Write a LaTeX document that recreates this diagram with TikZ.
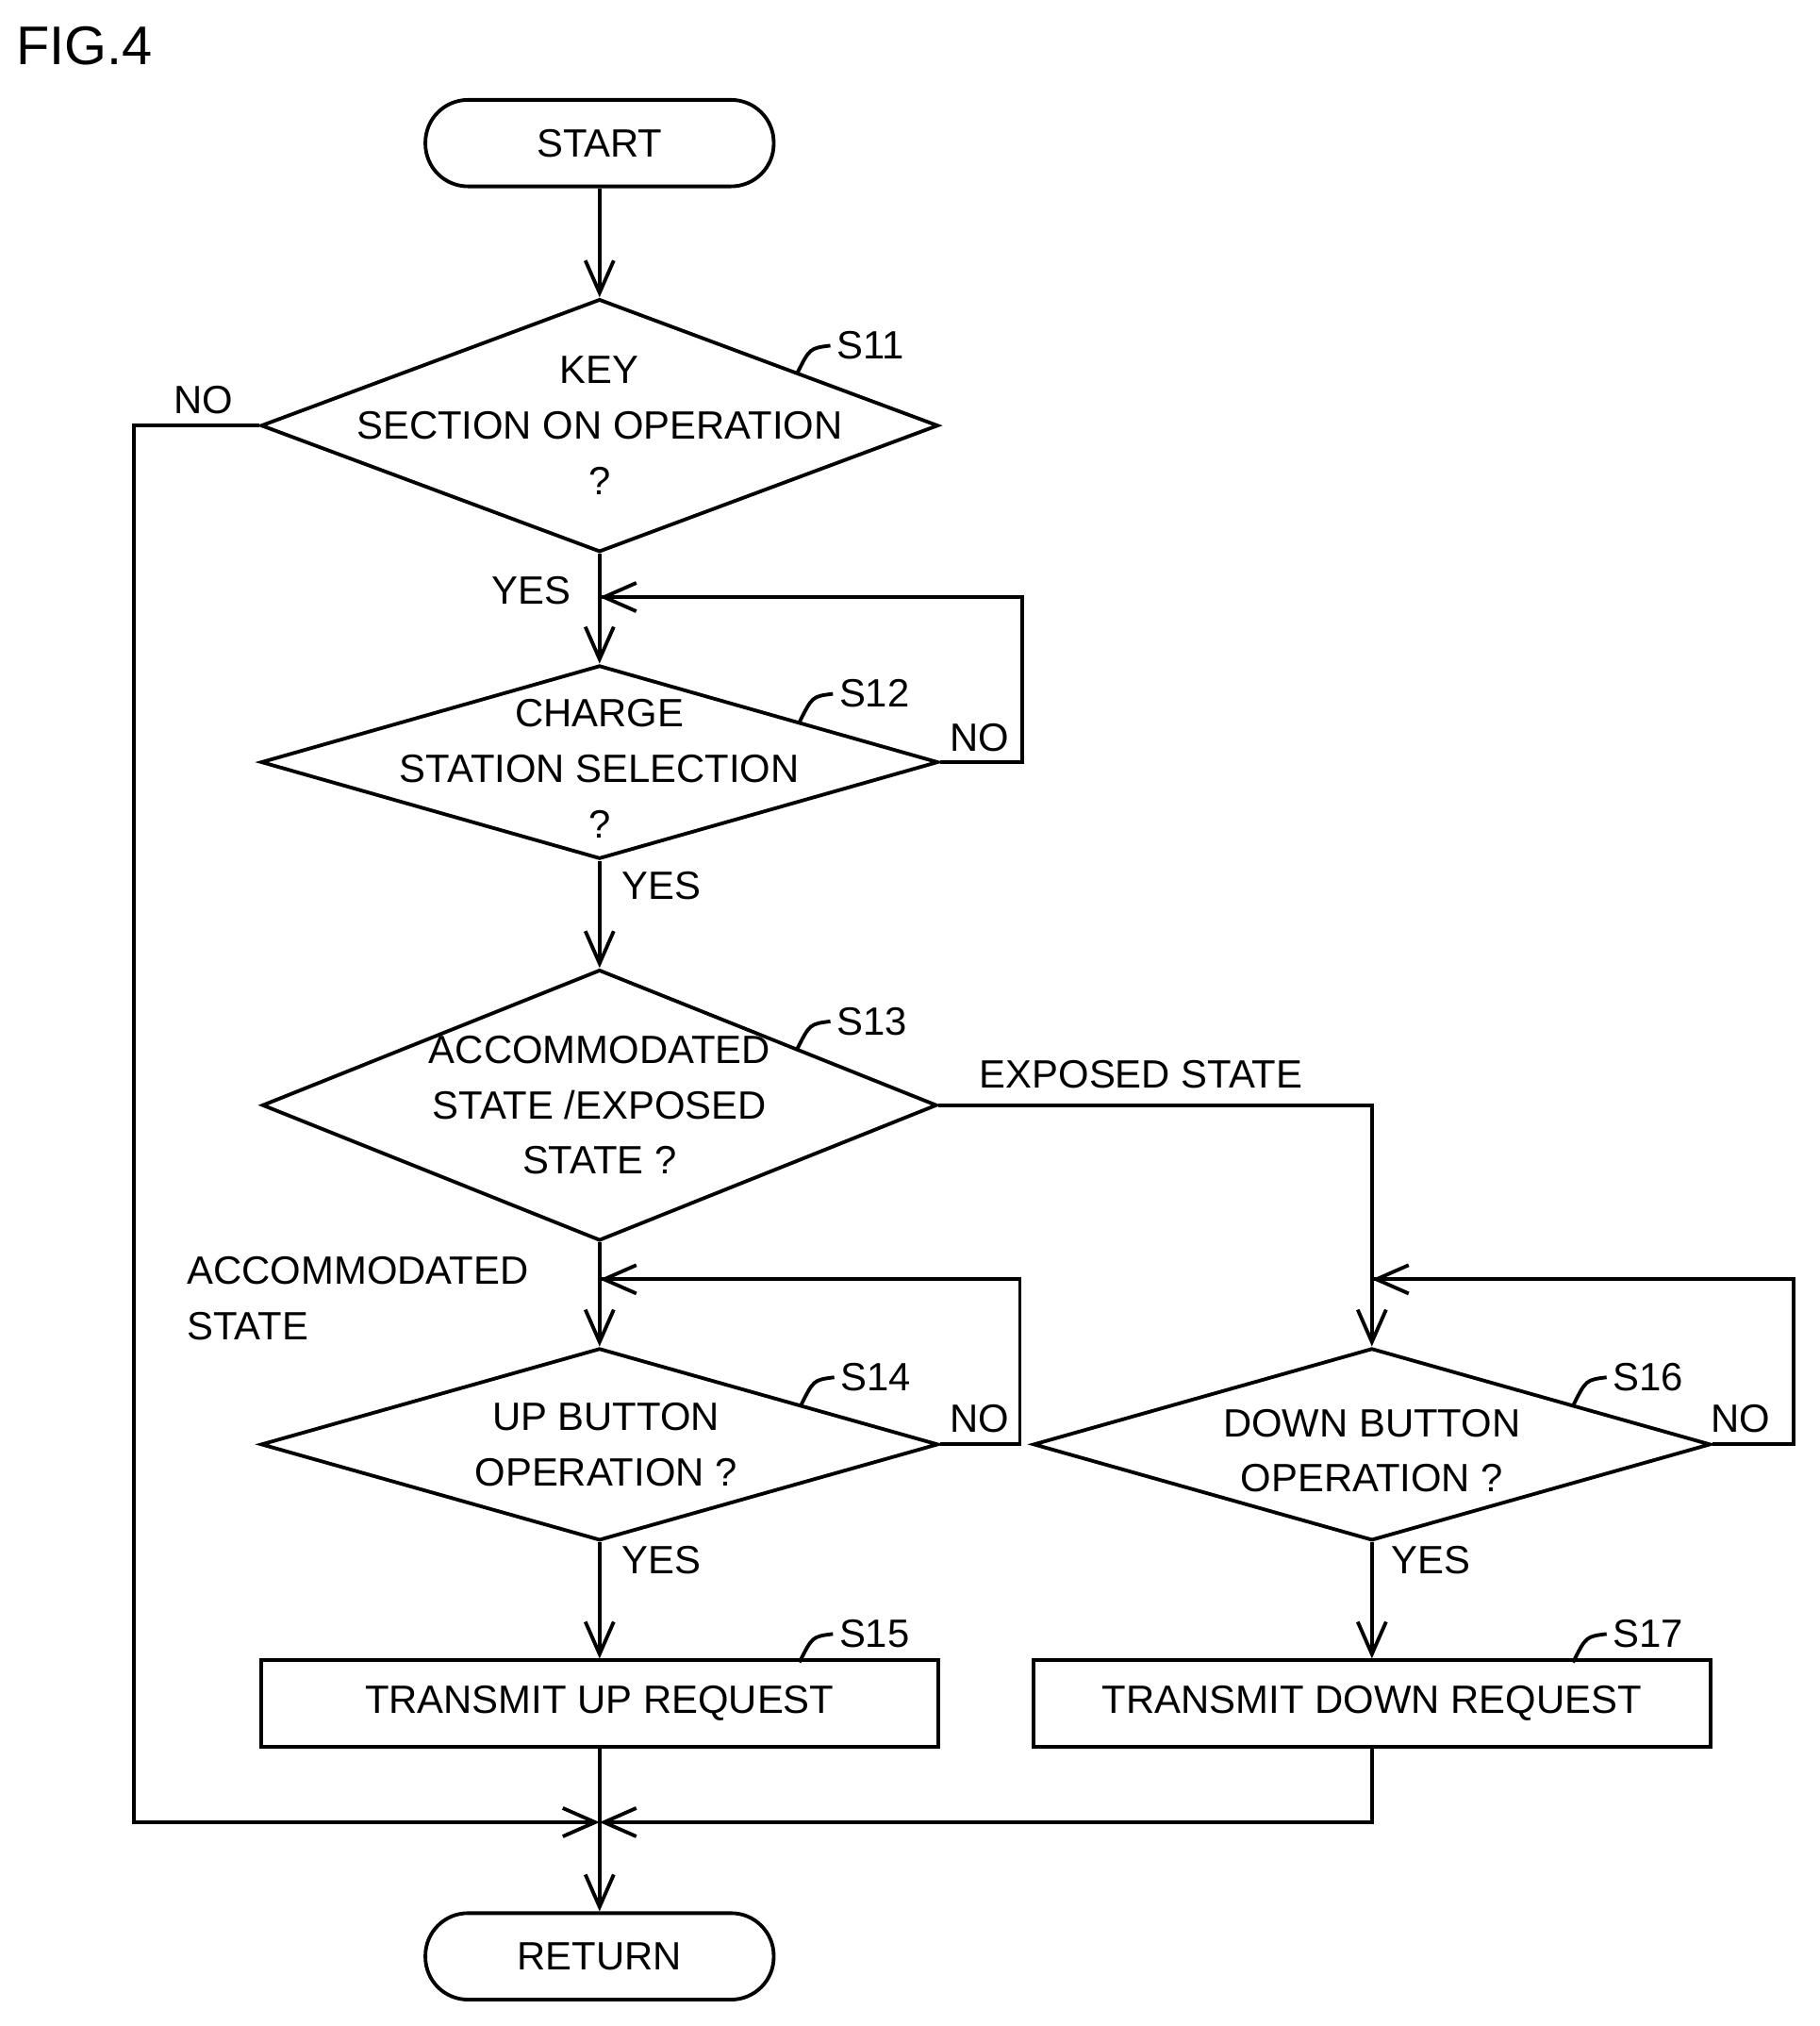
\documentclass[tikz,border=0pt]{standalone}
\usepackage{fontspec}
\setmainfont{Liberation Sans}
\usetikzlibrary{shapes.geometric,arrows.meta}

\tikzset{
  flow/.style={line width=0.8pt},
  arr/.style={flow,-{Straight Barb[length=2.5mm,width=2.2mm]}},
  term/.style={draw,flow,rounded corners=3.3mm,minimum width=2.7cm,minimum height=0.67cm},
  proc/.style={draw,flow,minimum width=5.25cm,minimum height=0.67cm},
  dec/.style={draw,flow,diamond,inner sep=0pt},
  lbl/.style={inner sep=1pt,align=center}
}
\newcommand\steptag[2]{%
  \draw[flow] ($(#1)+(-30,22)$) .. controls ($(#1)+(-20,2)$) .. ($(#1)+(-4,0)$) node[right,inner sep=1pt]{#2};}
\usetikzlibrary{calc}

\begin{document}
\fontsize{8.7}{12.2}\selectfont
\begin{tikzpicture}[x=0.01cm,y=-0.01cm]
\useasboundingbox (0,0) rectangle (1411,1571);
\node[anchor=north west,inner sep=0pt,font=\fontsize{12}{14}\selectfont] at (12,20) {FIG.4};

\node[term] (start) at (465,111) {START};
\node[dec,minimum width=5.25cm,minimum height=1.96cm] (s11) at (465,330) {};
\node[lbl] at (s11) {KEY\\SECTION ON OPERATION\\?};
\node[dec,minimum width=5.25cm,minimum height=1.5cm] (s12) at (465,591) {};
\node[lbl] at (465,596) {CHARGE\\STATION SELECTION\\?};
\node[dec,minimum width=5.23cm,minimum height=2.1cm] (s13) at (465,857) {};
\node[lbl] at (s13) {ACCOMMODATED\\STATE /EXPOSED\\STATE ?};
\node[dec,minimum width=5.25cm,minimum height=1.49cm] (s14) at (465,1120) {};
\node[lbl] at (470,1120) {UP BUTTON\\OPERATION ?};
\node[dec,minimum width=5.25cm,minimum height=1.49cm] (s16) at (1064,1120) {};
\node[lbl] at (1064,1125) {DOWN BUTTON\\OPERATION ?};
\node[proc] (s15) at (465,1321) {TRANSMIT UP REQUEST};
\node[proc] (s17) at (1064,1321) {TRANSMIT DOWN REQUEST};
\node[term] (ret) at (465,1517) {RETURN};

\coordinate (j12) at (465,463);
\coordinate (j14) at (465,992);
\coordinate (j16) at (1064,992);
\coordinate (m) at (465,1413);

\draw[arr] (start) -- (s11);
\draw[arr] (s11.south) -- (s12.north);
\draw[flow] (s12.east) -- (793,591) |- (j12);
\draw[arr] (793,463) -- (j12);
\draw[arr] (s12.south) -- (s13.north);
\draw[arr] (s13.south) -- (s14.north);
\draw[flow] (s14.east) -- (791,1120) |- (j14);
\draw[arr] (791,992) -- (j14);
\draw[arr] (s13.east) -| (s16.north);
\draw[flow] (s16.east) -- (1391,1120) |- (j16);
\draw[arr] (1391,992) -- (j16);
\draw[arr] (s14.south) -- (s15.north);
\draw[arr] (s16.south) -- (s17.north);
\draw[arr] (s11.west) -- (104,330) |- (m);
\draw[arr] (s17.south) |- (m);
\draw[flow] (s15.south) -- (m);
\draw[arr] (m) -- (ret);

\node[lbl] at (158,310) {NO};
\node[lbl] at (412,458) {YES};
\node[lbl] at (760,572) {NO};
\node[lbl] at (513,687) {YES};
\node[lbl] at (885,833) {EXPOSED STATE};
\node[lbl,align=left,anchor=west] at (141,1007) {ACCOMMODATED\\STATE};
\node[lbl] at (760,1100) {NO};
\node[lbl] at (513,1210) {YES};
\node[lbl] at (1350,1100) {NO};
\node[lbl] at (1110,1210) {YES};

\steptag{648,268}{S11}
\steptag{650,538}{S12}
\steptag{648,792}{S13}
\steptag{651,1068}{S14}
\steptag{650,1267}{S15}
\steptag{1250,1068}{S16}
\steptag{1250,1267}{S17}
\end{tikzpicture}
\end{document}
